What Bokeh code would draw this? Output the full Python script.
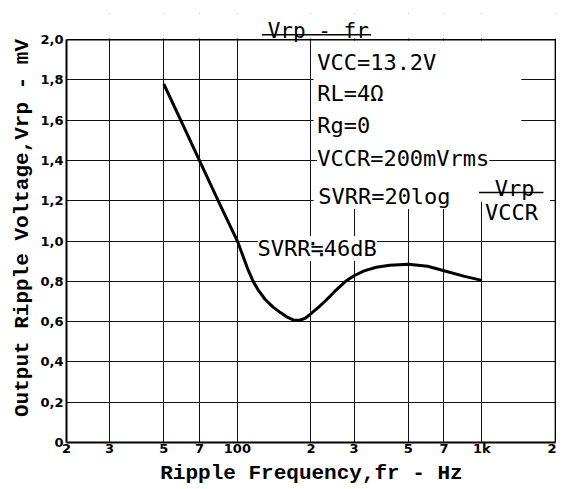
from bokeh.plotting import figure
from bokeh.models import (Range1d, FixedTicker, Label, Arrow, ColumnDataSource)
from bokeh.embed import file_html
from bokeh.resources import INLINE

# ---- data ----
freq_hz = [50, 60, 70, 85, 100, 104, 110, 116, 122, 130, 140, 150, 160, 170,
           180, 190, 200, 215, 230, 250, 277, 300, 330, 370, 420, 500, 600,
           700, 850, 1000]
vrp_mv = [1.78, 1.575, 1.40, 1.18, 1.00, 0.945, 0.865, 0.80, 0.755, 0.71,
          0.672, 0.645, 0.622, 0.608, 0.607, 0.618, 0.640, 0.672, 0.705,
          0.750, 0.800, 0.828, 0.852, 0.870, 0.880, 0.885, 0.875, 0.853,
          0.825, 0.805]

x_ticks = [20, 30, 50, 70, 100, 200, 300, 500, 700, 1000, 2000]
x_tick_labels = ["2", "3", "5", "7", "100", "2", "3", "5", "7", "1k", "2"]
y_ticks = [0, 0.2, 0.4, 0.6, 0.8, 1.0, 1.2, 1.4, 1.6, 1.8, 2.0]
y_tick_labels = ["0", "0,2", "0,4", "0,6", "0,8", "1,0", "1,2", "1,4", "1,6", "1,8", "2,0"]

title_text = "Vrp - fr"
cond_lines = ["VCC=13.2V", "RL=4\u03a9", "Rg=0", "VCCR=200mVrms"]
svrr_def = "SVRR=20log"
frac_num = "Vrp"
frac_den = "VCCR"
svrr_value = "SVRR\u225246dB"

X_MIN, X_MAX = x_ticks[0], x_ticks[-1]
Y_MIN, Y_MAX = y_ticks[0], y_ticks[-1]
Y_TOP = 2.13          # extra room above the grid for the title
X_END = 2020

p = figure(frame_width=490, frame_height=429, x_axis_type="log",
           x_range=Range1d(X_MIN, X_END), y_range=Range1d(Y_MIN, Y_TOP),
           output_backend="svg", toolbar_location=None,
           min_border_left=66, min_border_right=0,
           min_border_top=13, min_border_bottom=39,
           background_fill_color="white", border_fill_color="white")
p.outline_line_color = None

# axes
p.xaxis.ticker = FixedTicker(ticks=x_ticks)
p.xaxis.major_label_overrides = {t: l for t, l in zip(x_ticks, x_tick_labels)}
p.yaxis.ticker = FixedTicker(ticks=y_ticks)
p.yaxis.major_label_overrides = {t: l for t, l in zip(y_ticks, y_tick_labels)}
p.yaxis.bounds = (Y_MIN, Y_MAX)
p.xaxis.bounds = (X_MIN, X_MAX)
for ax in (p.xaxis, p.yaxis):
    ax.major_tick_line_color = None
    ax.minor_tick_line_color = None
    ax.major_tick_out = 0
    ax.major_tick_in = 0
    ax.minor_tick_out = 0
    ax.minor_tick_in = 0
    ax.axis_line_width = 2
    ax.axis_line_color = "black"
    ax.major_label_text_font = "DejaVu Sans"
    ax.major_label_text_font_style = "bold"
    ax.major_label_text_font_size = "13px"
    ax.major_label_text_color = "black"
    ax.axis_label_text_font = "Liberation Mono"
    ax.axis_label_text_font_style = "bold"
    ax.axis_label_text_font_size = "21px"
    ax.axis_label_text_color = "black"
p.xaxis.major_label_standoff = -2
p.yaxis.major_label_standoff = 3
p.xaxis.axis_label = "Ripple Frequency,fr - Hz"
p.yaxis.axis_label = "Output Ripple Voltage,Vrp - mV"
p.xaxis.axis_label_standoff = 3
p.yaxis.axis_label_standoff = 3

p.xgrid.ticker = FixedTicker(ticks=x_ticks)
p.ygrid.ticker = FixedTicker(ticks=y_ticks)
for g in (p.xgrid, p.ygrid):
    g.grid_line_color = "#111111"
    g.grid_line_width = 1
    g.grid_line_alpha = 1

# white band above the grid (title area) and white panel for the conditions box
p.quad(left=[X_MIN, 205, 205], right=[X_END, 1450, 1900],
       bottom=[Y_MAX + 0.006, 1.41, 1.195], top=[Y_TOP, Y_MAX - 0.004, 1.39],
       fill_color="white", line_color=None)

# frame top and right border
p.segment(x0=[X_MIN, X_MAX], y0=[Y_MAX, Y_MIN], x1=[X_MAX, X_MAX], y1=[Y_MAX, Y_MAX],
          line_color="black", line_width=1.6)

# curve
src = ColumnDataSource(dict(f=freq_hz, v=vrp_mv))
p.line("f", "v", source=src, line_color="black", line_width=3, line_join="round")

MONO = "DejaVu Sans Mono"

def lab(x, y, text, size="22px", align="left", bg=None):
    l = Label(x=x, y=y, text=text, text_font=MONO, text_font_size=size,
              text_color="black", text_align=align, text_baseline="alphabetic",
              background_fill_color=bg)
    p.add_layout(l)

# title with underline
lab(133, 2.045, title_text, size="21px")
p.add_layout(Arrow(end=None, x_start=126, y_start=2.025, x_end=352, y_end=2.025,
                   line_color="black", line_width=1.5))

# conditions
cond_y = [1.886, 1.732, 1.573, 1.409]
for t, yv in zip(cond_lines, cond_y):
    lab(212, yv, t, bg="white")
lab(214, 1.221, svrr_def, bg="white")
lab(1362, 1.262, frac_num, align="center", bg="white")
p.add_layout(Arrow(end=None, x_start=974, y_start=1.241, x_end=1786, y_end=1.241,
                   line_color="black", line_width=1.5))
lab(1322, 1.141, frac_den, align="center", bg="white")
lab(121, 0.963, svrr_value, bg="white")

open("out.html", "w").write(file_html(p, INLINE))
